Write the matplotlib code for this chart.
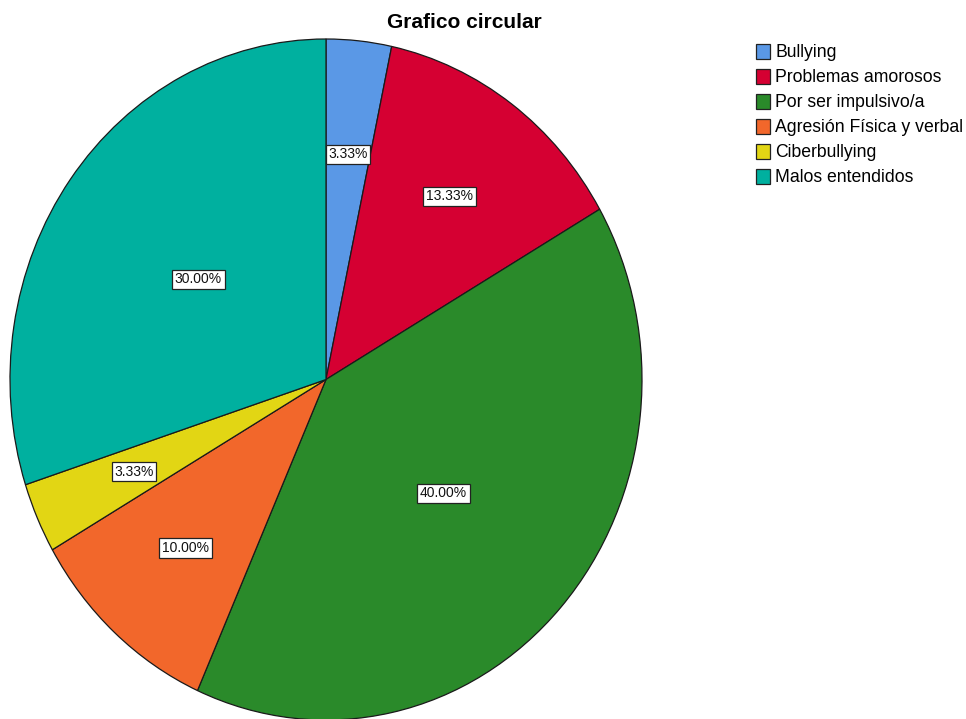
import numpy as np
import matplotlib.pyplot as plt
from matplotlib.patches import Patch

plt.rcParams['font.family'] = ['Liberation Sans', 'DejaVu Sans']

categories = ['Bullying', 'Problemas amorosos', 'Por ser impulsivo/a',
              'Agresión Física y verbal', 'Ciberbullying', 'Malos entendidos']
counts = [1, 4, 12, 3, 1, 9]
colors = ['#5a98e6', '#d50032', '#2a8a2a', '#f2672b', '#e2d614', '#00b09f']

fig = plt.figure(figsize=(9.66, 7.19), dpi=100)
ax = fig.add_axes([10/966, -1/719, 632/966, 681/719])

wedges, _ = ax.pie(counts, colors=colors, startangle=90, counterclock=False,
                   wedgeprops=dict(edgecolor='#1a1a1a', linewidth=0.9))
ax.set_aspect('auto')
ax.set_xlim(-1, 1)
ax.set_ylim(-1, 1)

total = sum(counts)
for w, c in zip(wedges, counts):
    pct = 100.0 * c / total
    ang = np.deg2rad((w.theta1 + w.theta2) / 2)
    r = 0.5 if pct >= 30 else 0.665
    ax.text(r*np.cos(ang), r*np.sin(ang), '%.2f%%' % pct, ha='center', va='center',
            fontsize=10, color='#111111',
            bbox=dict(boxstyle='square,pad=0.2', fc='white', ec='#222222', lw=0.9))

fig.text(464/966, 1 - 23/719, 'Grafico circular', ha='center', va='center',
         fontsize=15, fontweight='bold')

handles = [Patch(facecolor=c, edgecolor='#222222', linewidth=0.9) for c in colors]
fig.legend(handles, categories, loc='upper left', bbox_to_anchor=(756/966, 1 - 44/719),
           frameon=False, fontsize=12.7, handlelength=0.8, handleheight=0.9,
           handletextpad=0.3, labelspacing=0.43, borderaxespad=0, borderpad=0)

plt.savefig('out.png', dpi=100)
